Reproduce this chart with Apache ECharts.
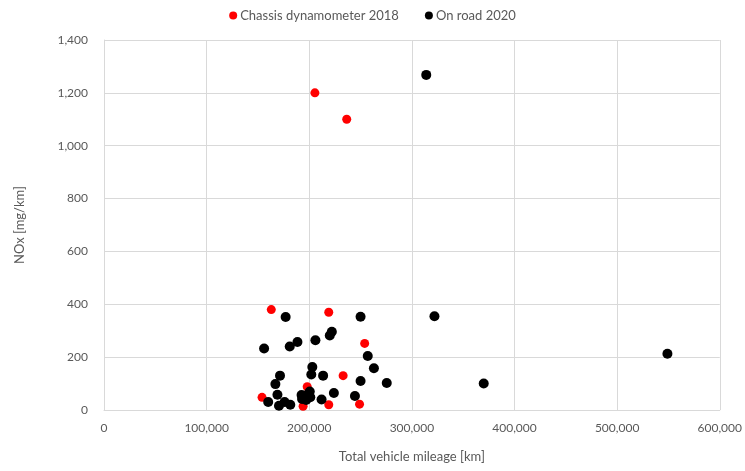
<!DOCTYPE html>
<html>
<head>
<meta charset="utf-8">
<script src="https://cdn.jsdelivr.net/npm/echarts@6/dist/echarts.min.js"></script>
<style>
  html, body { margin: 0; padding: 0; background: #fff; }
  #chart { width: 745px; height: 471px; }
</style>
</head>
<body>
<div id="chart"></div>
<script>
var seriesNames = ['Chassis dynamometer 2018', 'On road 2020']

// [mileage km, NOx mg/km]
var chassisData = [
  [205500, 1200], [236500, 1100], [163000, 380], [219000, 370], [254000, 252],
  [233000, 130], [198000, 88], [154000, 48], [194000, 14], [219000, 20], [249000, 22]
]
var onRoadData = [
  [314000, 1268], [322000, 355], [370000, 100], [549000, 213],
  [177000, 352], [250000, 353], [222000, 296], [220000, 282], [206000, 264],
  [188500, 257], [181000, 240], [156000, 233], [257000, 204], [263000, 158],
  [203000, 163], [202000, 134], [213500, 130], [171500, 130], [275500, 102],
  [250000, 110], [167000, 98], [224000, 64], [200500, 70], [169000, 58],
  [244500, 53], [212000, 40], [160000, 30], [176000, 30], [170500, 16],
  [181500, 20], [192500, 57], [193000, 42], [196000, 50], [199000, 60],
  [197000, 38], [201000, 48]
]

var textColor = '#595959'
var gridColor = '#d9d9d9'
var font = 'Lato, "Open Sans", sans-serif'

var myChart = echarts.init(document.getElementById('chart'))
myChart.setOption({
  backgroundColor: '#fff',
  animation: false,
  legend: {
    top: 4,
    left: 'center',
    itemGap: 26,
    itemWidth: 8,
    itemHeight: 8,
    icon: 'circle',
    data: seriesNames,
    textStyle: { color: textColor, fontSize: 13, fontFamily: font, padding: [0, 0, 0, -2] }
  },
  grid: { left: 104, right: 25, top: 40, bottom: 61 },
  xAxis: {
    type: 'value',
    min: 0,
    max: 600000,
    interval: 100000,
    name: 'Total vehicle mileage [km]',
    nameLocation: 'middle',
    nameGap: 40,
    nameTextStyle: { color: textColor, fontSize: 13, fontFamily: font },
    axisLine: { show: true, lineStyle: { color: gridColor } },
    axisTick: { show: false },
    axisLabel: {
      color: textColor, fontSize: 12, fontFamily: font, margin: 12,
      formatter: function (v) { return v.toLocaleString('en-US') }
    },
    splitLine: { show: true, lineStyle: { color: gridColor } }
  },
  yAxis: {
    type: 'value',
    min: 0,
    max: 1400,
    interval: 200,
    name: 'NOx [mg/km]',
    nameLocation: 'middle',
    nameGap: 78,
    nameTextStyle: { color: textColor, fontSize: 13, fontFamily: font },
    axisLine: { show: true, lineStyle: { color: gridColor } },
    axisTick: { show: false },
    axisLabel: {
      color: textColor, fontSize: 12, fontFamily: font, margin: 16,
      formatter: function (v) { return v.toLocaleString('en-US') }
    },
    splitLine: { show: true, lineStyle: { color: gridColor } }
  },
  series: [
    {
      name: seriesNames[0],
      type: 'scatter',
      symbolSize: 9,
      itemStyle: { color: '#ff0000', opacity: 1 },
      data: chassisData
    },
    {
      name: seriesNames[1],
      type: 'scatter',
      symbolSize: 10,
      itemStyle: { color: '#000000', opacity: 1 },
      data: onRoadData
    }
  ]
})
</script>
</body>
</html>
